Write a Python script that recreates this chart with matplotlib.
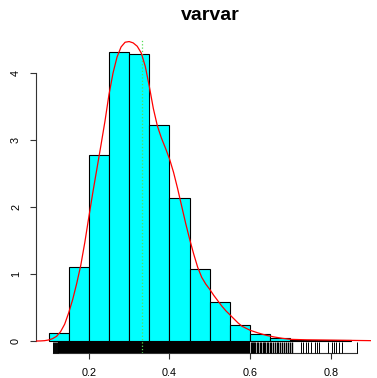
import matplotlib
matplotlib.use('Agg')
import matplotlib.pyplot as plt
import matplotlib.transforms as mtransforms
import numpy as np

# histogram (density scale), breaks every 0.05
breaks = [0.10, 0.15, 0.20, 0.25, 0.30, 0.35, 0.40, 0.45, 0.50, 0.55,
          0.60, 0.65, 0.70, 0.75, 0.80, 0.85]
heights = [0.12, 1.10, 2.77, 4.31, 4.28, 3.23, 2.14, 1.07, 0.58, 0.24,
           0.10, 0.05, 0.02, 0.02, 0.01]

# kernel density curve
dens_x = [0.069, 0.08, 0.09, 0.10, 0.11, 0.12, 0.13, 0.14, 0.15, 0.16,
          0.17, 0.18, 0.19, 0.20, 0.21, 0.22, 0.23, 0.24, 0.25, 0.26,
          0.27, 0.28, 0.29, 0.30, 0.31, 0.32, 0.33, 0.34, 0.35, 0.36,
          0.37, 0.38, 0.39, 0.40, 0.41, 0.42, 0.43, 0.44, 0.45, 0.46,
          0.47, 0.48, 0.49, 0.50, 0.51, 0.52, 0.53, 0.54, 0.55, 0.56,
          0.57, 0.58, 0.59, 0.60, 0.62, 0.64, 0.66, 0.68, 0.70, 0.74,
          0.78, 0.84, 0.905]
dens_y = [0.0, 0.001, 0.005, 0.015, 0.035, 0.07, 0.14, 0.25, 0.42, 0.62,
          0.86, 1.13, 1.47, 1.85, 2.22, 2.57, 2.92, 3.28, 3.68, 4.00,
          4.24, 4.39, 4.46, 4.47, 4.45, 4.40, 4.30, 4.10, 3.80, 3.47,
          3.21, 3.03, 2.88, 2.72, 2.52, 2.28, 2.02, 1.76, 1.52, 1.30,
          1.10, 0.95, 0.85, 0.77, 0.68, 0.60, 0.52, 0.45, 0.39, 0.33,
          0.27, 0.22, 0.19, 0.16, 0.12, 0.085, 0.06, 0.04, 0.025, 0.018,
          0.015, 0.01, 0.005]

mean_x = 0.331

# observations shown in the rug: crowded middle, thinning shoulder, sparse edges
rug_dense = [0.125, 0.128, 0.131, 0.135, 0.138, 0.142, 0.145, 0.149, 0.152, 0.156,
             0.159, 0.163, 0.166, 0.170, 0.173, 0.177, 0.180, 0.184, 0.187, 0.191,
             0.194, 0.198, 0.201, 0.205, 0.208, 0.212, 0.215, 0.219, 0.222, 0.226,
             0.229, 0.233, 0.236, 0.240, 0.243, 0.247, 0.250, 0.254, 0.257, 0.261,
             0.264, 0.268, 0.271, 0.275, 0.278, 0.282, 0.285, 0.289, 0.292, 0.296,
             0.299, 0.303, 0.306, 0.310, 0.313, 0.317, 0.320, 0.324, 0.327, 0.331,
             0.334, 0.338, 0.341, 0.345, 0.348, 0.352, 0.355, 0.359, 0.362, 0.366,
             0.369, 0.373, 0.376, 0.380, 0.383, 0.387, 0.390, 0.394, 0.397, 0.401,
             0.404, 0.408, 0.411, 0.415, 0.418, 0.422, 0.425, 0.429, 0.432, 0.436,
             0.439, 0.443, 0.446, 0.450, 0.453, 0.457, 0.460, 0.464, 0.467, 0.471,
             0.474, 0.478, 0.481, 0.485, 0.488, 0.492, 0.495, 0.499, 0.502, 0.506,
             0.509, 0.513, 0.516, 0.520, 0.523, 0.527, 0.530, 0.534, 0.537, 0.541,
             0.544, 0.548, 0.551, 0.555, 0.558, 0.562, 0.566, 0.570, 0.574, 0.578,
             0.582, 0.586, 0.590, 0.594, 0.598]
rug_mid = [0.601, 0.604, 0.607, 0.610, 0.613, 0.617, 0.620, 0.624, 0.627, 0.631,
           0.634, 0.638, 0.642, 0.645, 0.649, 0.653, 0.657, 0.661, 0.666, 0.670,
           0.675, 0.679, 0.684, 0.689, 0.694, 0.699, 0.705]
rug_sparse = [0.110, 0.113, 0.116, 0.119, 0.121, 0.123,
              0.726, 0.730, 0.738, 0.744, 0.751, 0.761, 0.765, 0.772, 0.794, 0.802,
              0.808, 0.812, 0.821, 0.829, 0.864]

xticks = [0.2, 0.4, 0.6, 0.8]
yticks = [0, 1, 2, 3, 4]

plt.rcParams['font.family'] = ['Liberation Sans', 'DejaVu Sans']

fig = plt.figure(figsize=(3.77, 3.78), dpi=100)
ax = fig.add_axes([36/377, 25/378, (371.5-36)/377, (353-29.5)/378])

widths = np.diff(breaks)
ax.bar(breaks[:-1], heights, width=widths, align='edge', color='#00FFFF',
       edgecolor='black', linewidth=0.8, zorder=2)

trans = mtransforms.blended_transform_factory(ax.transData, ax.transAxes)
for group, lw in [(rug_dense, 1.6), (rug_mid, 1.0), (rug_sparse, 0.7)]:
    for r in group:
        ax.plot([r, r], [0, 0.034], color='black', lw=lw, transform=trans,
                clip_on=False, zorder=3, solid_capstyle='butt')

ax.axvline(mean_x, ymin=0, ymax=0.97, color='#55DD55', ls=':', lw=0.9, zorder=4)
ax.plot(dens_x, dens_y, color='red', lw=0.9, zorder=5)

all_rug = rug_dense + rug_mid + rug_sparse
ax.set_xlim(0.069, 0.901)
ax.set_ylim(-0.179, 4.65)

for s in ['top', 'right']:
    ax.spines[s].set_visible(False)
ax.spines['left'].set_bounds(0, 4)
ax.spines['bottom'].set_bounds(min(all_rug), max(all_rug))
for s in ['left', 'bottom']:
    ax.spines[s].set_color('#333333')
    ax.spines[s].set_linewidth(0.8)

ax.set_xticks(xticks)
ax.set_xticklabels([str(t) for t in xticks])
ax.set_yticks(yticks)
ax.set_yticklabels([str(t) for t in yticks], rotation=90, va='center')
ax.tick_params(axis='x', length=4, width=0.8, pad=7, labelsize=7.8, color='#333333')
ax.tick_params(axis='y', length=4.3, width=0.8, pad=6.5, labelsize=7.8, color='#333333')

fig.text(210/377, 1 - 16/378, 'varvar', ha='center', va='center',
         fontweight='bold', fontsize=14)

fig.savefig('out.png', dpi=100)
